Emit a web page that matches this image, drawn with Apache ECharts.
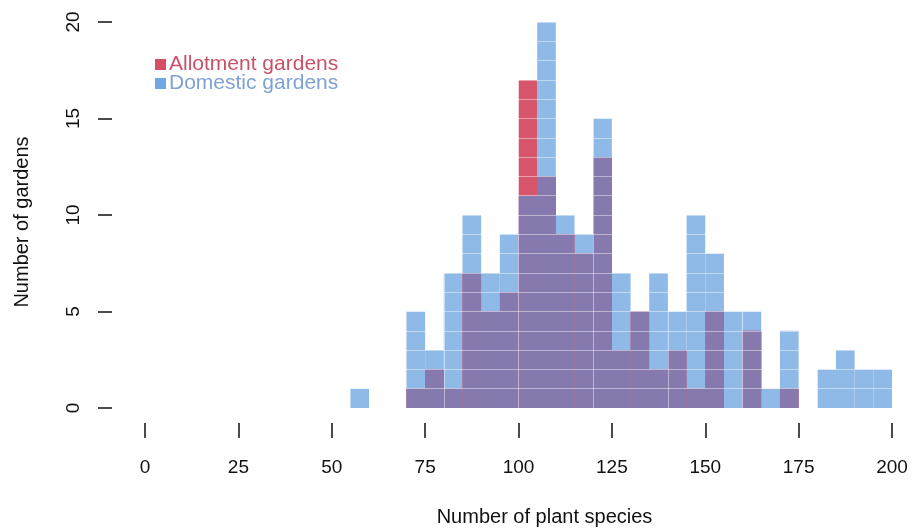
<!DOCTYPE html>
<html>
<head>
<meta charset="utf-8">
<script src="https://cdn.jsdelivr.net/npm/echarts@6/dist/echarts.min.js"></script>
<style>
  html, body { margin: 0; padding: 0; background: #fff; }
  #chart { width: 914px; height: 530px; }
</style>
</head>
<body>
<div id="chart"></div>
<script>
// bins of 5 species: 0-5, 5-10, ... 195-200
var binStarts = [0, 5, 10, 15, 20, 25, 30, 35, 40, 45,
                 50, 55, 60, 65, 70, 75, 80, 85, 90, 95,
                 100, 105, 110, 115, 120, 125, 130, 135, 140, 145,
                 150, 155, 160, 165, 170, 175, 180, 185, 190, 195];
// allotment gardens (red)
var allotment = [0, 0, 0, 0, 0, 0, 0, 0, 0, 0,
                 0, 0, 0, 0, 1, 2, 1, 7, 5, 6,
                 17, 12, 9, 8, 13, 3, 5, 2, 3, 1,
                 5, 0, 4, 0, 1, 0, 0, 0, 0, 0];
// domestic gardens (blue)
var domestic = [0, 0, 0, 0, 0, 0, 0, 0, 0, 0,
                0, 1, 0, 0, 5, 3, 7, 10, 7, 9,
                11, 20, 10, 9, 15, 7, 5, 7, 5, 10,
                8, 5, 5, 1, 4, 0, 2, 3, 2, 2];
var xTicks = [0, 25, 50, 75, 100, 125, 150, 175, 200];
var yTicks = [0, 5, 10, 15, 20];

// overlap = where both histograms cover (purple)
var overlap = allotment.map(function (v, i) { return Math.min(v, domestic[i]); });
var cats = binStarts.map(function (b) { return b + '-' + (b + 5); });

var FONT = '"Liberation Sans", Arial, sans-serif';
var RED = '#d8566c', BLUE = '#8fbae7', PURPLE = '#8679ae';

var myChart = echarts.init(document.getElementById('chart'));
var option = {
    animation: false,
    backgroundColor: '#fff',
    textStyle: { fontFamily: FONT },
    grid: { left: 145, right: 22, top: 22, bottom: 122, containLabel: false, outerBoundsMode: 'none' },
    legend: {
        orient: 'vertical',
        left: 150,
        top: 49,
        z: 10,
        itemWidth: 11,
        itemHeight: 11,
        itemGap: -2,
        icon: 'rect',
        data: [
            { name: 'Allotment gardens', itemStyle: { color: '#d64d66' }, textStyle: { color: '#c9516a' } },
            { name: 'Domestic gardens', itemStyle: { color: '#6fa7e2' }, textStyle: { color: '#7fa2d4' } }
        ],
        textStyle: { fontSize: 21, fontFamily: FONT, padding: [0, 0, 0, -2] }
    },
    xAxis: [
        { // bins, only used for bar placement + thin white grid
            type: 'category',
            position: 'bottom',
            data: cats,
            boundaryGap: true,
            z: 5,
            axisLine: { show: false, onZero: false },
            axisTick: { show: false },
            axisLabel: { show: false },
            splitLine: { show: true, lineStyle: { color: 'rgba(255,255,255,0.45)', width: 1 } }
        },
        { // visible axis
            type: 'value',
            position: 'bottom',
            min: 0,
            max: 200,
            interval: 25,
            offset: 15,
            axisLine: { show: false, onZero: false },
            axisTick: { show: true, length: 15, lineStyle: { color: '#111', width: 1.5 } },
            axisLabel: { color: '#111', fontSize: 19, margin: 35 },
            splitLine: { show: false },
            name: 'Number of plant species',
            nameLocation: 'middle',
            nameGap: 84,
            nameMoveOverlap: false,
            nameTextStyle: { color: '#111', fontSize: 20, padding: [0, 0, 0, 52] }
        }
    ],
    yAxis: [
        {
            type: 'value',
            position: 'left',
            min: 0,
            max: 20,
            interval: 5,
            offset: 33,
            axisLine: { show: false, onZero: false },
            axisTick: { show: true, length: 14, lineStyle: { color: '#111', width: 1.5 } },
            axisLabel: { color: '#111', fontSize: 19, rotate: 90, margin: 29 },
            splitLine: { show: false },
            name: 'Number of gardens',
            nameLocation: 'middle',
            nameGap: 80,
            nameMoveOverlap: false,
            nameTextStyle: { color: '#111', fontSize: 20, padding: [0, 14, 0, 0] }
        },
        { // unit grid drawn over the bars
            type: 'value',
            position: 'left',
            min: 0,
            max: 20,
            interval: 1,
            z: 5,
            axisLine: { show: false, onZero: false },
            axisTick: { show: false },
            axisLabel: { show: false },
            splitLine: { show: true, lineStyle: { color: 'rgba(255,255,255,0.45)', width: 1 } }
        }
    ],
    series: [
        {
            name: 'Domestic gardens',
            type: 'bar',
            xAxisIndex: 0,
            yAxisIndex: 0,
            barWidth: '100%',
            barGap: '-100%',
            itemStyle: { color: BLUE },
            data: domestic
        },
        {
            name: 'Allotment gardens',
            type: 'bar',
            xAxisIndex: 0,
            yAxisIndex: 0,
            barWidth: '100%',
            barGap: '-100%',
            itemStyle: { color: RED },
            data: allotment
        },
        {
            name: 'overlap',
            type: 'bar',
            xAxisIndex: 0,
            yAxisIndex: 0,
            barWidth: '100%',
            barGap: '-100%',
            itemStyle: { color: PURPLE },
            data: overlap
        }
    ]
};
myChart.setOption(option);
</script>
</body>
</html>
